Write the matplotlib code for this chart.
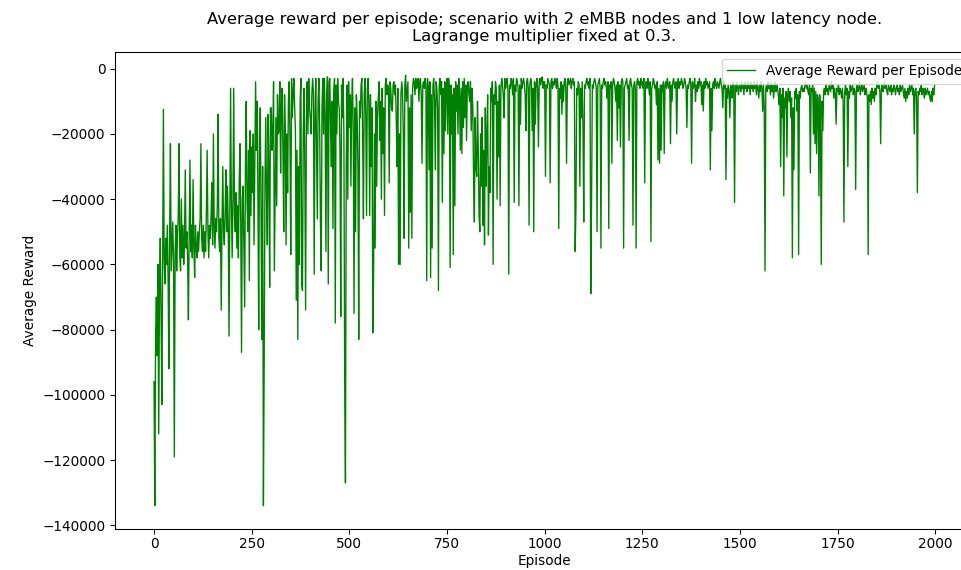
import numpy as np
import matplotlib
matplotlib.use("Agg")
import matplotlib.pyplot as plt

seg_0000 = [-96, -134, -82, -70, -88, -60, -112, -68, -52, -75, -103, -62, -12.5, -58, -66, -52, -60, -48, -64, -92,
            -50, -23, -62, -54, -47, -60, -119, -56, -48, -62, -52, -45, -23, -58, -62, -40, -58, -48, -60, -52,
            -31, -55, -50, -58, -77, -50, -28, -56, -48, -58]
seg_0100 = [-34, -55, -64, -48, -55, -58, -50, -56, -50, -46, -23, -52, -56, -48, -58, -50, -56, -44, -25, -50,
            -58, -48, -52, -45, -35, -54, -20, -48, -55, -46, -50, -42, -14, -52, -56, -46, -74, -48, -30, -50,
            -54, -44, -31, -50, -36, -48, -82, -44, -6, -42]
seg_0200 = [-58, -40, -6, -45, -50, -38, -55, -42, -58, -35, -23, -48, -87, -40, -36, -55, -73, -30, -10, -40,
            -50, -25, -65, -19, -45, -24, -38, -20, -54, -30, -4, -25, -10, -40, -80, -20, -12, -45, -83, -30,
            -134, -90, -35, -15, -40, -54, -14, -30, -67, -12]
seg_0300 = [-12, -25, -21, -4, -62, -38, -15, -42, -8, -20, -19, -4, -32, -12, -6, -25, -50, -8, -18, -54,
            -20, -38, -10, -4, -22, -57, -3, -15, -8, -3, -12, -19, -71, -25, -83, -30, -60, -10, -3, -66,
            -68, -20, -6, -30, -74, -15, -4, -20, -3, -12]
seg_0400 = [-15, -20, -8, -3, -7, -63, -15, -3, -25, -46, -10, -3, -18, -47, -62, -12, -3, -20, -3, -14,
            -56, -8, -2.5, -66, -4, -3, -19, -30, -10, -49, -8, -3, -78, -5, -20, -3, -10, -12, -25, -76,
            -5, -15, -3, -20, -95, -127, -30, -5, -40, -4]
seg_0500 = [-18, -8, -36, -10, -3, -20, -75, -12, -50, -8, -15, -30, -83, -10, -15, -5, -3, -20, -46, -8,
            -3, -15, -45, -6, -3, -12, -45, -8, -30, -12, -81, -64, -20, -55, -10, -36, -15, -9, -4, -22,
            -10, -40, -6, -26, -12, -45, -5, -3, -8, -5]
seg_0600 = [-6, -35, -4, -6, -12, -13, -5, -4, -8, -5, -15, -30, -6, -60, -20, -60, -8, -4, -7, -20,
            -52, -5, -2, -10, -7, -4, -55, -12, -44, -8, -52, -6, -3, -4, -8, -3, -6, -5, -3, -10,
            -4, -3, -8, -29, -5, -4, -6, -3, -5, -65]
seg_0700 = [-3, -6, -31, -4, -64, -8, -55, -5, -3, -10, -31, -4, -6, -12, -68, -5, -3, -8, -4, -41,
            -6, -26, -4, -19, -5, -3, -20, -3, -6, -61, -5, -20, -8, -57, -6, -42, -4, -13, -5, -20,
            -3, -8, -25, -6, -26, -4, -18, -3, -15, -5]
seg_0800 = [-22, -5, -4, -8, -10, -4, -19, -6, -12, -34, -47, -15, -30, -33, -10, -25, -45, -50, -20, -36,
            -15, -48, -25, -54, -12, -36, -20, -8, -51, -30, -38, -6, -10, -4, -60, -8, -11, -4, -6, -40,
            -10, -27, -5, -42, -6, -3, -5, -8, -15, -3]
seg_0900 = [-6, -4, -3, -7, -63, -5, -6, -3, -4, -8, -3, -41, -5, -7, -3, -4, -6, -42, -5, -17,
            -3, -6, -4, -3, -5, -8, -19, -4, -3, -6, -48, -5, -3, -4, -19, -6, -50, -4, -17, -5,
            -3, -6, -24, -4, -3, -5, -3, -2.5, -6, -4]
seg_1000 = [-4, -33, -5, -6, -3, -4, -5, -35, -4, -3, -6, -4, -5, -3, -4, -6, -3, -5, -49, -6,
            -9, -4, -14, -5, -10, -4, -3, -6, -29, -4, -3, -5, -4, -3, -6, -4, -3, -5, -4, -56,
            -43, -6, -8, -4, -5, -36, -6, -15, -4, -18]
seg_1100 = [-47, -5, -6, -4, -3, -5, -4, -6, -3, -69, -40, -5, -6, -4, -3, -4, -6, -50, -5, -4,
            -3, -6, -55, -5, -6, -4, -3, -5, -4, -6, -9, -4, -49, -5, -6, -4, -29, -5, -3, -4,
            -6, -10, -5, -22, -4, -12, -5, -24, -4, -3]
seg_1200 = [-4, -55, -6, -5, -4, -3, -6, -5, -22, -4, -3, -5, -6, -48, -5, -4, -6, -55, -4, -3,
            -5, -4, -6, -3, -5, -4, -6, -3, -35, -5, -4, -6, -3, -5, -8, -4, -53, -6, -5, -3,
            -4, -6, -5, -11, -4, -28, -6, -29, -5, -25]
seg_1300 = [-5, -7, -4, -26, -5, -4, -6, -3, -5, -6, -4, -23, -5, -10, -4, -3, -5, -6, -4, -20,
            -5, -3, -6, -4, -5, -3, -4, -6, -5, -3, -4, -6, -18, -5, -6, -4, -3, -5, -29, -4,
            -6, -5, -3, -10, -5, -7, -4, -6, -3, -5]
seg_1400 = [-4, -11, -5, -13, -4, -6, -3, -5, -4, -6, -5, -4, -31, -6, -19, -5, -4, -6, -3, -5,
            -6, -4, -5, -6, -4, -3, -5, -6, -12, -4, -6, -5, -34, -6, -9, -5, -7, -15, -5, -6,
            -9, -4, -6, -41, -5, -7, -4, -6, -8, -5]
seg_1500 = [-5, -7, -4, -6, -5, -8, -4, -6, -5, -7, -4, -6, -5, -8, -4, -6, -5, -7, -4, -6,
            -5, -8, -4, -6, -9, -5, -7, -4, -6, -13, -5, -12, -62, -6, -5, -7, -4, -6, -5, -8,
            -4, -7, -5, -9, -6, -4, -7, -5, -6, -8]
seg_1600 = [-11, -6, -30, -8, -15, -6, -39, -9, -12, -7, -27, -8, -6, -10, -7, -15, -9, -58, -12, -31,
            -7, -9, -6, -13, -8, -57, -7, -9, -6, -5, -7, -6, -7, -5, -4, -6, -5, -7, -8, -5,
            -32, -6, -7, -5, -20, -6, -23, -7, -26, -8]
seg_1700 = [-9, -39, -8, -20, -60, -10, -19, -7, -6, -8, -5, -7, -6, -8, -5, -6, -7, -4, -6, -5,
            -9, -6, -8, -17, -6, -7, -5, -8, -6, -7, -9, -6, -10, -47, -7, -5, -8, -6, -30, -7,
            -9, -5, -7, -6, -5, -8, -6, -7, -37, -6]
seg_1800 = [-5, -7, -6, -4, -8, -6, -5, -7, -6, -5, -8, -6, -7, -9, -57, -8, -10, -7, -11, -6,
            -9, -7, -10, -6, -8, -5, -4, -6, -5, -7, -23, -6, -5, -7, -6, -4, -6, -5, -7, -8,
            -5, -6, -7, -5, -8, -6, -7, -5, -6, -8]
seg_1900 = [-6, -5, -7, -6, -8, -5, -7, -6, -5, -7, -9, -6, -10, -7, -9, -6, -8, -5, -7, -6,
            -5, -8, -6, -20, -7, -6, -9, -38, -7, -8, -6, -7, -5, -8, -6, -7, -9, -6, -8, -7,
            -6, -8, -7, -9, -10, -7, -10, -6, -8, -5]

segments = [seg_0000, seg_0100, seg_0200, seg_0300, seg_0400, seg_0500, seg_0600, seg_0700,
            seg_0800, seg_0900, seg_1000, seg_1100, seg_1200, seg_1300, seg_1400, seg_1500,
            seg_1600, seg_1700, seg_1800, seg_1900]
reward = np.concatenate([np.asarray(s, dtype=float) for s in segments]) * 1000.0
episodes = np.arange(len(reward)) * 2

DPI = 98
fig = plt.figure(figsize=(962 / DPI, 570 / DPI), dpi=DPI)
ax = fig.add_axes([0.1195, 0.0719, 0.893, 0.837])
ax.plot(episodes, reward, color="green", linewidth=1, label="Average Reward per Episode")
ax.set_xlim(-100, 2099)
ax.set_ylim(-141150, 5150)
ax.tick_params(axis="x", pad=2.5)
ax.set_xlabel("Episode", labelpad=2)
ax.set_ylabel("Average Reward")
ax.set_title("Average reward per episode; scenario with 2 eMBB nodes and 1 low latency node.\n"
             "Lagrange multiplier fixed at 0.3.", pad=8)
ax.legend(loc="upper right")
fig.savefig("out.png", dpi=DPI)
